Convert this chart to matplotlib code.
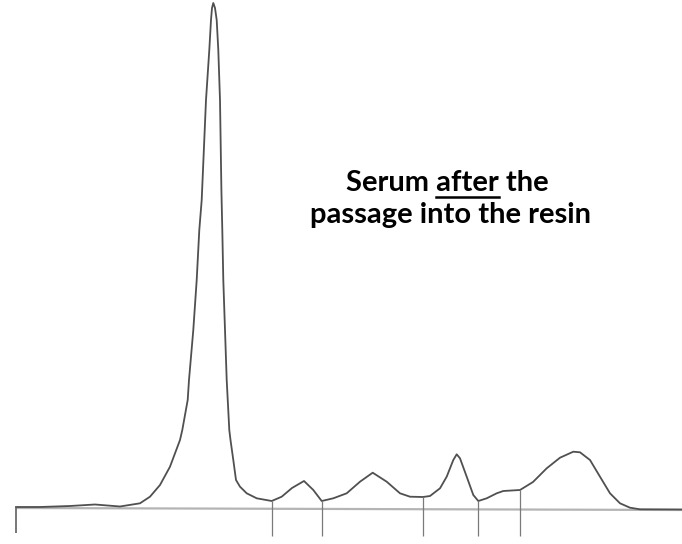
import numpy as np
import matplotlib
matplotlib.use("Agg")
from matplotlib import pyplot as plt
from matplotlib.lines import Line2D

# densitometer trace, position along the strip vs height above baseline
trace_pos = [16, 40, 70, 95, 120, 140, 150, 160, 170, 180, 182.3, 187.7, 189,
             193.3, 196.7, 199.3, 201.7, 206, 209.3, 211, 212, 213.3, 215,
             216.7, 218.3, 220, 221.4, 222.3, 223.3, 225, 226.7, 229.3, 230.5,
             233.3, 236, 240, 246.7, 256.7, 271.7, 281.7, 292, 304, 313.3,
             321.7, 333.3, 346.7, 360, 372.7, 386.7, 400, 410, 423, 430, 440,
             446.7, 453.3, 456.7, 460, 466.7, 473.3, 478.3, 486.7, 496.7,
             503.3, 520, 533, 546.7, 560, 573.3, 580, 590, 600, 610, 620, 630,
             640, 682]
trace_height = [1, 1, 2, 3.5, 1.5, 4.7, 11.3, 23, 41.3, 68, 78, 108, 128,
                178, 228, 278, 308, 408, 458, 488, 500, 505, 500,
                488, 458, 408, 318, 278, 228, 178, 128, 78, 68,
                48, 28, 21.3, 14.7, 9.7, 7, 11.3, 20, 27, 18,
                7, 9.7, 14.7, 26.3, 35.3, 26.3, 14.7, 11.3, 11, 12, 19.7,
                31.3, 48, 53.7, 49.7, 31.3, 13, 7, 9.7, 14.7,
                17, 18, 26, 39.7, 50.3, 56.3, 55.7, 48, 31.3, 14.7, 4.7, 0.3,
                -1.3, -1.5]

# baseline drawn on the strip
base_pos = [16, 682]
base_height = [0, -2]

# fraction separators (vertical cut marks)
cut_pos = [272, 322, 423, 478, 520]
cut_top = [7, 7, 11, 7, 18]
cut_bottom = -28

fig = plt.figure(figsize=(6.82, 5.44), dpi=100)
ax = fig.add_axes([0, 0, 1, 1])
ax.set_xlim(0, 682)
ax.set_ylim(-36, 508)
ax.axis("off")

ax.plot(base_pos, base_height, color="#b4b4b4", lw=1.6, solid_capstyle="butt")
ax.plot(trace_pos, trace_height, color="#505050", lw=1.3)
ax.vlines(cut_pos, cut_bottom, cut_top, color="#7a7a7a", lw=0.9)
ax.vlines([trace_pos[0]], -25, trace_height[0], color="#606060", lw=1.2)

font = dict(family="Lato", weight="bold", fontsize=21)
line1 = ax.text(447.5, 317, "Serum after the", ha="center", va="baseline", **font)
ax.text(450, 285, "passage into the resin", ha="center", va="baseline", **font)

# underline the word "after"
fig.canvas.draw()
r = fig.canvas.get_renderer()
bb = line1.get_window_extent(r)
prop = line1.get_fontproperties()
w_pre = r.get_text_width_height_descent("Serum ", prop, ismath=False)[0]
w_word = r.get_text_width_height_descent("after", prop, ismath=False)[0]
x0 = bb.x0 + w_pre
x1 = x0 + w_word
y_base = ax.transData.transform((0, 317))[1]
uy = y_base - 6
fig.lines.append(Line2D([x0, x1], [uy, uy], transform=None, color="black", lw=1.8))

fig.savefig("out.png", dpi=100)
